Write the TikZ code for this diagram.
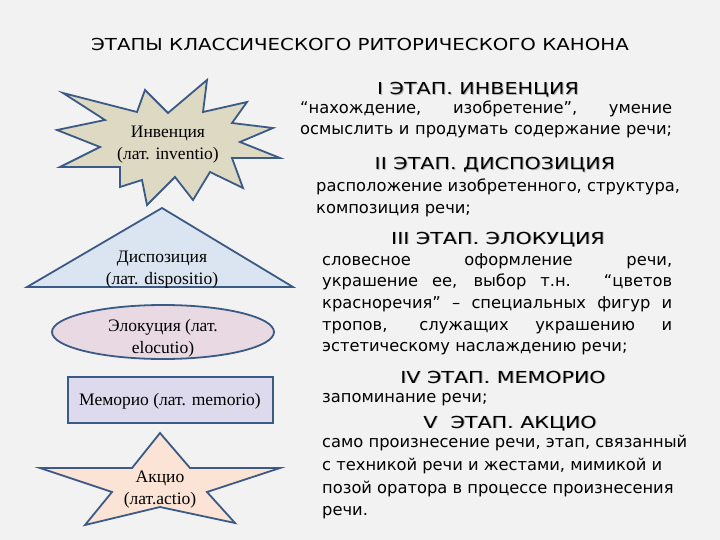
\documentclass[tikz,border=0pt]{standalone}
\usepackage{fontspec}
\usepackage{graphicx}
\setmainfont{Liberation Serif}
\newfontfamily\csf{DejaVu Sans}
\newcommand{\wide}[1]{\scalebox{1.25}[1]{\makebox[0pt][l]{\kern0.8pt\raisebox{-0.8pt}{\color{black!30}#1}}#1}}
\begin{document}
\begin{tikzpicture}[x=1pt,y=-1pt,
  shp/.style={draw=shapeline, line width=1.8pt, line join=miter},
  lt/.style={font=\fontsize{17.5}{22}\selectfont, inner sep=0pt, align=center},
  hd/.style={font=\csf\fontsize{16.5}{18}\selectfont, inner sep=0pt, anchor=base},
  bd/.style={font=\csf\fontsize{16.3}{18}\selectfont, inner sep=0pt, anchor=base west},
  ttl/.style={font=\csf\fontsize{16.5}{18}\selectfont, inner sep=0pt, anchor=base}]
\definecolor{bgc}{HTML}{F2F2F2}
\definecolor{shapeline}{HTML}{3B5A85}
\definecolor{expl}{HTML}{DDD9C3}
\definecolor{tri}{HTML}{DBE5F1}
\definecolor{ell}{HTML}{E8D9E2}
\definecolor{rec}{HTML}{DCDAEC}
\definecolor{sta}{HTML}{FBE4D5}
\fill[bgc] (0,0) rectangle (720,540);
\useasboundingbox (0,0) rectangle (720,540);

% title
\node[ttl] (title) at (360,51) {\scalebox{1.2}[1]{ЭТАПЫ КЛАССИЧЕСКОГО РИТОРИЧЕСКОГО КАНОНА}};

% explosion
\draw[shp, fill=expl] (63,93) -- (137,112) -- (145,90) -- (168,113) -- (207,80) -- (203,112)
  -- (247,102) -- (232,123) -- (273,128) -- (240,142) -- (280,158) -- (232,158)
  -- (243,188) -- (210,172) -- (193,200) -- (175,177) -- (147,205) -- (142,180)
  -- (120,187) -- (120,167) -- (60,167) -- (100,147) -- (57,130) -- (105,120) -- cycle;
\node[lt] (inv) at (168,145) {Инвенция\\(лат. inventio)};

% triangle
\draw[shp, fill=tri] (162,208) -- (293,287) -- (27,287) -- cycle;
\node[lt] (disp) at (162,270) {Диспозиция\\(лат. dispositio)};

% ellipse
\draw[shp, fill=ell] (163,332) ellipse [x radius=111, y radius=27];
\node[lt] (eloc) at (163,338) {Элокуция (лат.\\elocutio)};

% rectangle
\draw[shp, fill=rec] (68,377) rectangle (273,423);
\node[lt] (mem) at (170,401) {Меморио (лат. memorio)};

% star
\draw[shp, fill=sta] (160,433) -- (190,468) -- (280,468) -- (207,492) -- (235,523)
  -- (160,507) -- (85,525) -- (112,492) -- (40,468) -- (132,468) -- cycle;
\node[lt] (act) at (160,490) {Акцио\\(лат.actio)};

% right column
\node[hd] (h1) at (478,95) {\wide{I ЭТАП. ИНВЕНЦИЯ}};
\node[bd] (l11) at (300,114) {\hbox to 372pt{“нахождение, изобретение”, умение}};
\node[bd] (l12) at (300,135) {\hbox to 372pt{осмыслить и продумать содержание речи;}};

\node[hd] (h2) at (495,170) {\wide{II ЭТАП. ДИСПОЗИЦИЯ}};
\node[bd] (l21) at (316,192) {расположение изобретенного, структура,};
\node[bd] (l22) at (316,214) {композиция речи;};

\node[hd] (h3) at (498,244) {\wide{III ЭТАП. ЭЛОКУЦИЯ}};
\node[bd] (l31) at (322,265) {\hbox to 350pt{словесное оформление речи,}};
\node[bd] (l32) at (322,286) {\hbox to 350pt{украшение ее, выбор т.н. “цветов}};
\node[bd] (l33) at (322,308) {\hbox to 350pt{красноречия” – специальных фигур и}};
\node[bd] (l34) at (322,330) {\hbox to 350pt{тропов, служащих украшению и}};
\node[bd] (l35) at (322,351) {эстетическому наслаждению речи;};

\node[hd] (h4) at (503,383) {\wide{IV ЭТАП. МЕМОРИО}};
\node[bd] (l41) at (322,402) {запоминание речи;};

\node[hd] (h5) at (510,428) {\wide{V\ \ ЭТАП. АКЦИО}};
\node[bd] (l51) at (322,447) {само произнесение речи, этап, связанный};
\node[bd] (l52) at (322,470) {с техникой речи и жестами, мимикой и};
\node[bd] (l53) at (322,493) {позой оратора в процессе произнесения};
\node[bd] (l54) at (322,515) {речи.};
\end{tikzpicture}
\end{document}
